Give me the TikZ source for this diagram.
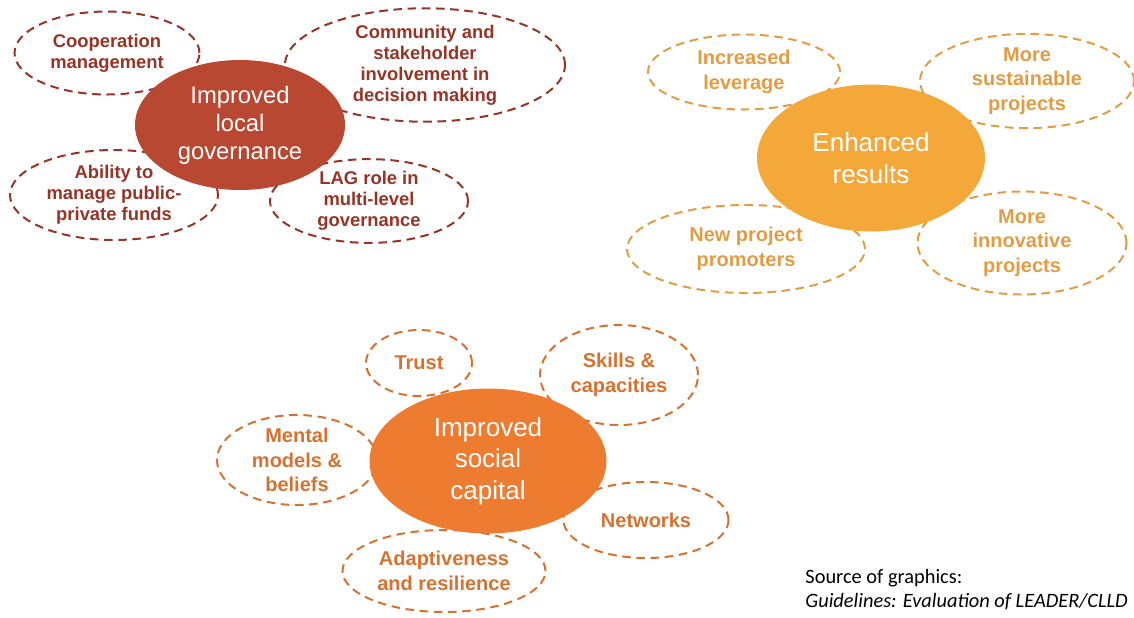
\documentclass[tikz,border=0pt]{standalone}
\usepackage{fontspec}
\setmainfont{Liberation Sans}
\newfontfamily\srcfont{Carlito}
\usetikzlibrary{shapes.geometric}
\definecolor{govfill}{RGB}{184,72,50}
\definecolor{govline}{RGB}{150,52,38}
\definecolor{resfill}{RGB}{245,168,58}
\definecolor{resline}{RGB}{226,156,68}
\definecolor{socfill}{RGB}{238,124,48}
\definecolor{socline}{RGB}{214,114,48}
\tikzset{%
  hub/.style      = {shape=ellipse, inner sep=0pt, align=center,%
                     text=white, fill=#1},%
  spoke/.style    = {shape=ellipse, inner sep=0pt, align=center,%
                     draw=#1, text=#1, line width=1pt,%
                     dash pattern=on 4.3pt off 2.8pt},%
  sz/.style 2 args = {minimum width=#1*0.5pt, minimum height=#2*0.5pt},%
  smallfont/.style = {font=\fontsize{9.2}{10.5}\selectfont\bfseries},%
  spokefont/.style = {font=\fontsize{10}{12.2}\selectfont\bfseries},%
  hubsmall/.style  = {font=\fontsize{11.9}{14}\selectfont},%
  hubfont/.style   = {font=\fontsize{13}{15.8}\selectfont},%
  srcnote/.style   = {anchor=base west, inner sep=0pt}%
}

\begin{document}
\begin{tikzpicture}[x=0.5pt,y=-0.5pt]
	\useasboundingbox (0,0) rectangle (1134,617);
	\clip (0,0) rectangle (1134,617);
	% local governance
	\begin{scope}[every node/.append style={smallfont}]
		\node [spoke=govline, sz={185}{83}] (coop) at (107,53) {Cooperation\\management};
		\node [spoke=govline, sz={280}{100}] (comm) at (425,65) {Community and\\stakeholder\\involvement in\\decision making};
		\node [spoke=govline, sz={208}{90}] (funds) at (114,195) {Ability to\\manage public-\\private funds};
		\node [spoke=govline, sz={198}{82}] (lag) at (369,201) {LAG role in\\multi-level\\governance};
		\node [hub=govfill, hubsmall, sz={210}{130}] (gov) at (240,125) {Improved\\local\\governance};
	\end{scope}
	% results
	\begin{scope}[every node/.append style={spokefont}]
		\node [spoke=resline, sz={192}{75}] (lever) at (744,72) {Increased\\leverage};
		\node [spoke=resline, sz={214}{93}] (sust) at (1027,81) {More\\sustainable\\projects};
		\node [spoke=resline, sz={238}{88}] (promo) at (746,249) {New project\\promoters};
		\node [spoke=resline, sz={209}{103}] (innov) at (1022,243) {More\\innovative\\projects};
		\node [hub=resfill, hubfont, sz={228}{147}] (res) at (871,158) {Enhanced\\results};
	\end{scope}
	% social capital
	\begin{scope}[every node/.append style={spokefont}]
		\node [spoke=socline, sz={106}{66}] (trust) at (419,363) {Trust};
		\node [spoke=socline, sz={158}{100}] (skill) at (619,375) {Skills \&\\capacities};
		\node [spoke=socline, sz={160}{90}] (mental) at (297,460) {Mental\\models \&\\beliefs};
		\node [spoke=socline, sz={165}{76}] (net) at (646,520) {Networks};
		\node [spoke=socline, sz={203}{82}] (adapt) at (444,571) {Adaptiveness\\and resilience};
		\node [hub=socfill, hubfont, sz={237}{145}] (soc) at (488,461) {Improved\\social\\capital};
	\end{scope}
	\node [srcnote, font=\srcfont\fontsize{10.2}{12}\selectfont] (src) at (805,583) {Source of graphics:};
	\node [srcnote, font=\srcfont\itshape\fontsize{10.2}{12}\selectfont] (guide) at (805,607) {Guidelines: Evaluation of LEADER/CLLD};
\end{tikzpicture}
\end{document}
